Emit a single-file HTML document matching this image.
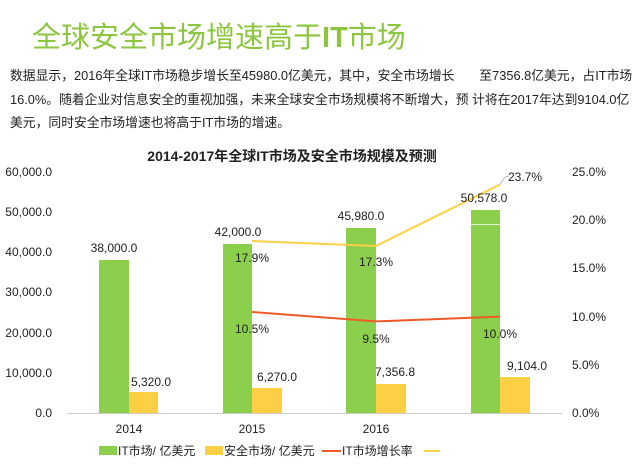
<!DOCTYPE html>
<html><head><meta charset="utf-8"><style>
body{margin:0;width:640px;height:464px;background:#fff;overflow:hidden;font-family:"Liberation Sans","Noto Sans CJK SC",sans-serif}
.h{position:absolute;left:32px;top:14px;font-size:29px;color:#8cc63f}
.p{position:absolute;left:10px;top:64px;width:630px;font-size:12.8px;line-height:23.5px;color:#222}
</style></head><body>
<div class="h">全球安全市场增速高于<b>IT</b>市场</div>
<div class="p">数据显示，2016年全球IT市场稳步增长至45980.0亿美元，其中，安全市场增长&nbsp;&nbsp;&nbsp;&nbsp;&nbsp;&nbsp;&nbsp;至7356.8亿美元，占IT市场<br>16.0%。随着企业对信息安全的重视加强，未来全球安全市场规模将不断增大，预&nbsp;计将在2017年达到9104.0亿<br>美元，同时安全市场增速也将高于IT市场的增速。</div>
<svg width="640" height="464" style="position:absolute;left:0;top:0" font-family="Liberation Sans,Noto Sans CJK SC,sans-serif" font-size="12" fill="#222">
<text x="292" y="161" text-anchor="middle" font-weight="bold" font-size="14">2014-2017年全球IT市场及安全市场规模及预测</text>
<g text-anchor="end">
<text x="52" y="176">60,000.0</text><text x="52" y="216">50,000.0</text><text x="52" y="256">40,000.0</text><text x="52" y="296">30,000.0</text><text x="52" y="337">20,000.0</text><text x="52" y="377">10,000.0</text><text x="52" y="417">0.0</text></g>
<g><text x="572" y="176">25.0%</text><text x="572" y="224">20.0%</text><text x="572" y="272">15.0%</text><text x="572" y="321">10.0%</text><text x="572" y="369">5.0%</text><text x="572" y="417">0.0%</text></g>
<line x1="67" y1="413.5" x2="562" y2="413.5" stroke="#ccc" stroke-width="1"/>
<g fill="#8ccf4c"><rect x="99" y="260" width="30" height="153"/><rect x="223" y="244" width="29" height="169"/><rect x="346" y="228" width="30" height="185"/><rect x="471" y="210" width="29" height="203"/></g>
<line x1="471" y1="224.5" x2="500" y2="224.5" stroke="#fff" stroke-width="0.8"/>
<g fill="#fbd044"><rect x="129" y="392" width="29" height="21"/><rect x="252" y="388" width="30" height="25"/><rect x="376" y="384" width="30" height="29"/><rect x="500" y="377" width="30" height="36"/></g>
<polyline points="252,312 376,321.4 500,316.6" fill="none" stroke="#f05a28" stroke-width="2"/>
<polyline points="252,241 376,246 500,184.5" fill="none" stroke="#fbd044" stroke-width="2"/>
<polyline points="500,184.5 505,177 509,176" fill="none" stroke="#aaa" stroke-width="0.8"/>
<g text-anchor="middle">
<text x="114" y="252">38,000.0</text><text x="238" y="236">42,000.0</text><text x="361" y="220">45,980.0</text><text x="484" y="202">50,578.0</text>
<text x="151" y="386">5,320.0</text><text x="277" y="381">6,270.0</text><text x="395" y="376">7,356.8</text><text x="527" y="370">9,104.0</text>
<text x="252" y="262">17.9%</text><text x="376" y="266">17.3%</text><text x="525" y="181">23.7%</text>
<text x="252" y="333">10.5%</text><text x="376" y="343">9.5%</text><text x="500" y="338">10.0%</text>
<text x="129" y="433">2014</text><text x="252" y="433">2015</text><text x="376" y="433">2016</text></g>
<rect x="99" y="446" width="18" height="9" fill="#8ccf4c"/><text x="118" y="455">IT市场/ 亿美元</text>
<rect x="205" y="446" width="18" height="9" fill="#fbd044"/><text x="224" y="455">安全市场/ 亿美元</text>
<line x1="322" y1="451" x2="341" y2="451" stroke="#f05a28" stroke-width="2"/><text x="342" y="455">IT市场增长率</text>
<line x1="424" y1="451" x2="440" y2="451" stroke="#fbd044" stroke-width="2"/>
</svg>
</body></html>
